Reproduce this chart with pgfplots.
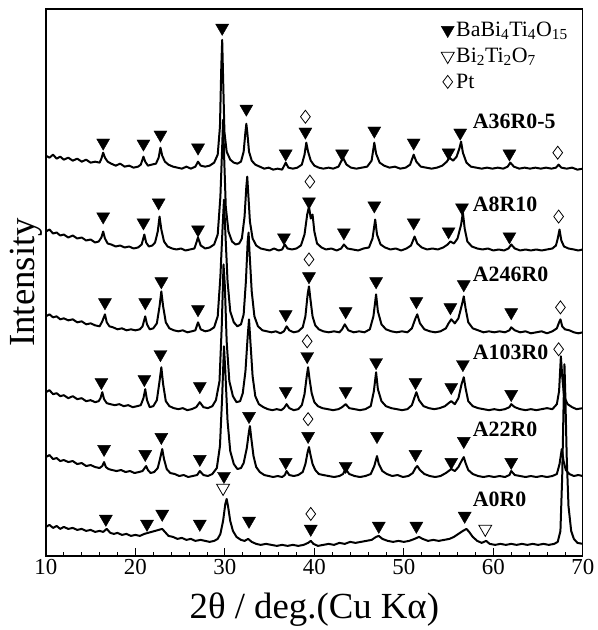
\documentclass[border=0pt]{standalone}
\usepackage{fontspec}
\setmainfont{Liberation Serif}
\usepackage{pgfplots}
\pgfplotsset{compat=1.18}
\begin{document}
\begin{tikzpicture}
\begin{axis}[
  scale only axis, width=538bp, height=548bp,
  xmin=10, xmax=70, ymin=0, ymax=548,
  xtick={10,20,...,70}, minor x tick num=4, xtick pos=bottom,
  ytick=\empty,
  major tick length=8bp, minor tick length=4bp,
  tick style={black, line width=0.8bp},
  axis line style={line width=1.3bp},
  tick label style={font=\fontsize{23}{26}\selectfont},
  /pgf/number format/assume math mode=true,
  xlabel={2θ / deg.(Cu Kα)},
  ylabel={Intensity},
  label style={font=\fontsize{37}{42}\selectfont},
  xlabel style={at={(axis description cs:0.5,-0.115)}, anchor=base},
  ylabel style={at={(axis description cs:-0.0204,0.5)}, anchor=base},
  legend style={at={(axis description cs:0.736,0.98)}, anchor=north west,
    draw=none, fill=none, font=\fontsize{22}{25}\selectfont,
    cells={anchor=west}, row sep=6bp, inner sep=0bp},
  legend image code/.code={\draw[#1] plot coordinates {(0bp,0bp)};},
]
\coordinate (bl) at (rel axis cs:0,0);
\coordinate (tr) at (rel axis cs:1,1);

% A36R0-5
\addplot[black, line width=2bp, line join=round, forget plot] coordinates {
(10,401)(10.4,399)(10.8,402)(11.2,398)(11.6,400)(12,397)(12.5,399)(13,396)(13.5,398)(14,395)(14.5,397)(15,394)(15.5,395)(16,394)(16.2,398)(16.4,404)(16.6,399)(16.9,395)(17.3,393)(17.8,391)(18.3,393)(18.8,390)(19.3,391)(19.8,389)(20.3,390)(20.6,392)(20.9,400)(21.1,395)(21.4,391)(21.8,392)(22.3,393)(22.6,399)(22.8,409)(23.0,401)(23.3,395)(23.7,392)(24.2,390)(24.7,389)(25.2,388)(25.7,390)(26.2,388)(26.7,390)(27.0,395)(27.3,391)(27.8,390)(28.3,391)(28.8,394)(29.2,402)(29.45,430)(29.6,490)(29.7,517)(29.8,480)(29.95,425)(30.2,405)(30.6,397)(31.0,394)(31.4,393)(31.8,395)(32.1,405)(32.3,425)(32.4,433)(32.5,425)(32.7,405)(33.0,396)(33.4,392)(33.9,390)(34.4,388)(34.9,389)(35.4,387)(35.9,388)(36.4,387)(36.8,394)(37.1,389)(37.6,388)(38.1,389)(38.6,392)(38.9,402)(39.1,414)(39.3,405)(39.6,396)(40.0,391)(40.5,389)(41.0,388)(41.6,389)(42.1,388)(42.7,390)(43.2,399)(43.6,392)(44.1,389)(44.7,388)(45.3,389)(45.9,390)(46.4,396)(46.7,414)(46.9,403)(47.3,394)(47.8,391)(48.4,389)(49.0,390)(49.6,388)(50.2,389)(50.7,392)(51.1,402)(51.4,395)(51.9,390)(52.5,389)(53.1,388)(53.7,389)(54.3,391)(54.8,395)(55.1,399)(55.5,396)(55.9,400)(56.2,408)(56.4,415)(56.6,404)(57.0,394)(57.5,390)(58.1,389)(58.7,388)(59.3,389)(59.9,388)(60.5,389)(61.1,388)(61.6,390)(61.9,394)(62.3,390)(62.9,388)(63.5,389)(64.1,388)(64.7,389)(65.3,388)(65.9,389)(66.5,388)(67.0,389)(67.3,392)(67.6,389)(68.2,388)(68.8,389)(69.4,387)(70,388)};

% A8R10
\addplot[black, line width=2bp, line join=round, forget plot] coordinates {
(10,325)(10.4,327)(10.8,323)(11.2,324)(11.6,321)(12,322)(12.5,319)(13,321)(13.5,318)(14,319)(14.5,316)(15,317)(15.5,314)(15.9,315)(16.2,319)(16.4,325)(16.6,318)(16.9,313)(17.3,312)(17.8,310)(18.3,311)(18.8,309)(19.3,310)(19.8,308)(20.3,309)(20.7,312)(21.0,322)(21.2,314)(21.5,310)(21.9,311)(22.2,314)(22.5,325)(22.7,340)(22.9,327)(23.2,315)(23.6,310)(24.1,308)(24.6,307)(25.1,308)(25.6,306)(26.1,307)(26.6,308)(27.0,319)(27.3,311)(27.8,308)(28.3,309)(28.8,312)(29.2,322)(29.5,360)(29.7,410)(29.8,437)(29.9,405)(30.1,350)(30.4,325)(30.8,315)(31.2,312)(31.6,313)(31.9,318)(32.2,340)(32.4,370)(32.5,380)(32.6,365)(32.8,335)(33.1,318)(33.5,311)(34.0,308)(34.5,307)(35.0,306)(35.5,308)(36.0,306)(36.4,307)(36.7,312)(37.0,308)(37.5,307)(38.0,308)(38.5,311)(38.9,322)(39.2,342)(39.4,350)(39.6,338)(39.8,342)(40.0,325)(40.3,313)(40.8,309)(41.3,307)(41.9,308)(42.5,306)(43.0,308)(43.3,312)(43.7,308)(44.3,307)(44.9,306)(45.5,308)(46.1,309)(46.5,318)(46.8,337)(47.0,322)(47.4,312)(47.9,309)(48.5,307)(49.1,308)(49.7,306)(50.3,308)(50.8,311)(51.2,320)(51.5,313)(52.0,309)(52.6,307)(53.2,308)(53.8,307)(54.4,309)(54.9,312)(55.2,315)(55.6,313)(56.0,318)(56.4,332)(56.6,344)(56.8,328)(57.1,315)(57.6,310)(58.2,308)(58.8,307)(59.4,308)(60.0,306)(60.6,307)(61.2,306)(61.7,308)(62.0,312)(62.4,308)(63.0,306)(63.6,307)(64.2,306)(64.8,307)(65.4,306)(66.0,307)(66.6,308)(67.0,311)(67.2,318)(67.4,327)(67.6,316)(67.9,310)(68.4,308)(69.0,307)(69.5,306)(70,307)};

% A246R0
\addplot[black, line width=2bp, line join=round, forget plot] coordinates {
(10,240)(10.4,242)(10.8,239)(11.2,240)(11.6,237)(12,238)(12.5,236)(13,237)(13.5,234)(14,235)(14.5,232)(15,233)(15.5,231)(16.0,230)(16.3,235)(16.6,242)(16.8,234)(17.1,230)(17.5,229)(18.0,227)(18.5,228)(19.0,226)(19.5,227)(20.0,226)(20.5,227)(20.8,230)(21.1,240)(21.3,232)(21.6,227)(22.0,228)(22.4,233)(22.7,250)(22.9,265)(23.1,250)(23.4,234)(23.8,228)(24.3,226)(24.8,225)(25.3,226)(25.8,224)(26.3,225)(26.7,226)(27.0,234)(27.3,227)(27.8,225)(28.3,226)(28.8,229)(29.2,240)(29.5,280)(29.75,330)(29.9,357)(30.05,325)(30.3,275)(30.6,245)(31.0,234)(31.4,230)(31.8,232)(32.1,242)(32.35,275)(32.55,315)(32.65,324)(32.75,305)(33.0,265)(33.3,240)(33.7,230)(34.2,226)(34.7,225)(35.2,224)(35.7,225)(36.2,223)(36.6,225)(36.9,230)(37.2,226)(37.7,224)(38.2,225)(38.7,229)(39.0,240)(39.25,262)(39.4,270)(39.55,258)(39.8,240)(40.1,231)(40.5,227)(41.0,225)(41.6,224)(42.2,225)(42.8,224)(43.1,227)(43.4,232)(43.8,226)(44.4,224)(45.0,225)(45.6,224)(46.2,227)(46.6,240)(46.9,262)(47.1,245)(47.5,232)(48.0,227)(48.6,225)(49.2,224)(49.8,225)(50.4,224)(50.9,228)(51.3,238)(51.5,242)(51.8,233)(52.3,227)(52.9,225)(53.5,224)(54.1,225)(54.7,228)(55.0,233)(55.3,237)(55.7,233)(56.1,238)(56.5,252)(56.7,260)(56.9,248)(57.2,234)(57.7,228)(58.3,226)(58.9,224)(59.5,225)(60.1,224)(60.7,225)(61.3,224)(61.8,226)(62.0,229)(62.4,226)(63.0,224)(63.6,225)(64.2,223)(64.8,224)(65.4,225)(66.0,223)(66.6,225)(67.1,228)(67.35,234)(67.5,237)(67.7,230)(68.0,227)(68.5,226)(69.0,224)(69.5,223)(70,224)};

% A103R0
\addplot[black, line width=2bp, line join=round, forget plot] coordinates {
(10,164)(10.4,166)(10.8,162)(11.2,163)(11.6,160)(12,161)(12.5,158)(13,160)(13.5,157)(14,158)(14.5,155)(15,156)(15.5,154)(15.9,155)(16.1,158)(16.3,164)(16.5,157)(16.8,153)(17.2,152)(17.7,151)(18.2,152)(18.7,150)(19.2,151)(19.7,149)(20.2,150)(20.6,151)(20.9,158)(21.1,167)(21.3,156)(21.6,149)(22.0,150)(22.4,156)(22.7,175)(22.9,189)(23.1,172)(23.4,155)(23.8,150)(24.3,148)(24.8,147)(25.3,148)(25.8,146)(26.3,147)(26.8,149)(27.2,154)(27.6,149)(28.1,148)(28.6,150)(29.0,156)(29.4,175)(29.65,230)(29.85,292)(30.0,270)(30.2,215)(30.5,175)(30.9,160)(31.3,154)(31.7,155)(32.0,163)(32.3,185)(32.55,220)(32.7,237)(32.85,215)(33.1,180)(33.4,160)(33.8,152)(34.3,149)(34.8,147)(35.3,146)(35.8,147)(36.3,146)(36.6,148)(36.9,152)(37.2,148)(37.7,146)(38.2,147)(38.6,151)(38.9,162)(39.15,180)(39.3,189)(39.45,178)(39.7,163)(40.0,154)(40.4,150)(40.9,148)(41.5,147)(42.1,146)(42.7,147)(43.1,149)(43.5,152)(43.9,148)(44.5,147)(45.1,146)(45.7,147)(46.3,150)(46.65,165)(46.9,184)(47.1,167)(47.5,155)(48.0,150)(48.6,148)(49.2,147)(49.8,146)(50.4,147)(50.9,151)(51.2,159)(51.4,164)(51.7,156)(52.2,150)(52.8,148)(53.4,147)(54.0,148)(54.6,150)(55.0,153)(55.3,155)(55.7,152)(56.1,158)(56.45,172)(56.7,179)(56.9,168)(57.2,155)(57.7,150)(58.3,148)(58.9,147)(59.5,146)(60.1,147)(60.7,146)(61.3,147)(61.8,149)(62.0,152)(62.4,149)(63.0,147)(63.6,146)(64.2,147)(64.8,146)(65.4,147)(66.0,148)(66.6,147)(67.1,152)(67.35,165)(67.55,200)(67.7,180)(67.9,160)(68.3,152)(68.8,149)(69.3,147)(70,148)};

% A22R0
\addplot[black, line width=2bp, line join=round, forget plot] coordinates {
(10,99)(10.4,101)(10.8,97)(11.2,98)(11.6,95)(12,96)(12.5,94)(13,95)(13.5,92)(14,93)(14.5,90)(15,91)(15.5,89)(16.0,88)(16.3,90)(16.5,94)(16.7,89)(17.0,87)(17.4,86)(17.9,85)(18.4,86)(18.9,84)(19.4,85)(19.9,83)(20.4,84)(20.8,85)(21.2,90)(21.4,86)(21.7,83)(22.1,84)(22.5,88)(22.8,99)(23.0,107)(23.2,97)(23.5,87)(23.9,83)(24.4,82)(24.9,80)(25.4,81)(25.9,79)(26.4,80)(26.9,81)(27.2,85)(27.6,81)(28.1,80)(28.6,82)(29.1,88)(29.45,110)(29.7,160)(29.9,210)(30.05,185)(30.3,135)(30.6,105)(31.0,92)(31.4,87)(31.8,88)(32.1,93)(32.45,108)(32.7,125)(32.8,130)(32.95,118)(33.2,100)(33.5,89)(33.9,84)(34.4,81)(34.9,80)(35.4,79)(35.9,80)(36.4,79)(36.7,81)(36.9,85)(37.2,81)(37.7,80)(38.2,81)(38.7,84)(39.0,92)(39.25,104)(39.4,109)(39.55,102)(39.8,92)(40.1,86)(40.5,82)(41.0,81)(41.6,80)(42.2,79)(42.8,80)(43.2,82)(43.5,87)(43.9,82)(44.5,80)(45.1,79)(45.7,80)(46.3,82)(46.7,90)(47.0,100)(47.2,92)(47.6,85)(48.1,82)(48.7,80)(49.3,81)(49.9,79)(50.5,80)(51.0,83)(51.3,88)(51.5,90)(51.8,86)(52.3,82)(52.9,80)(53.5,79)(54.1,80)(54.7,83)(55.0,85)(55.3,87)(55.7,85)(56.1,89)(56.5,96)(56.7,99)(56.9,93)(57.2,86)(57.7,82)(58.3,80)(58.9,79)(59.5,80)(60.1,79)(60.7,80)(61.3,79)(61.8,81)(62.0,85)(62.4,81)(63.0,80)(63.6,79)(64.2,80)(64.8,79)(65.4,80)(66.0,79)(66.6,80)(67.1,82)(67.4,92)(67.65,107)(67.85,95)(68.1,86)(68.5,82)(69.0,80)(69.5,81)(70,80)};

% A0R0
\addplot[black, line width=2bp, line join=round, forget plot] coordinates {
(10,29)(10.4,31)(10.8,28)(11.2,30)(11.6,27)(12,29)(12.5,27)(13,28)(13.5,26)(14,27)(14.5,25)(15,26)(15.5,24)(16.0,25)(16.4,24)(16.8,27)(17.2,23)(17.6,22)(18.0,23)(18.5,21)(19.0,22)(19.5,20)(20.0,21)(20.5,20)(21.0,22)(21.4,23)(21.8,24)(22.2,25)(22.6,26)(23.0,27)(23.3,24)(23.7,20)(24.2,19)(24.7,17)(25.2,18)(25.7,16)(26.2,17)(26.7,15)(27.3,16)(27.8,15)(28.3,14)(28.8,15)(29.2,17)(29.5,22)(29.8,35)(30.05,52)(30.2,57)(30.35,50)(30.6,35)(30.9,25)(31.3,19)(31.8,16)(32.2,15)(32.6,17)(33.0,14)(33.5,12)(34.0,11)(34.6,12)(35.2,11)(35.8,10)(36.4,11)(37.0,10)(37.6,11)(38.2,10)(38.8,11)(39.3,13)(39.6,15)(39.9,12)(40.4,10)(41.0,11)(41.6,12)(42.2,11)(42.8,13)(43.4,12)(44.0,14)(44.6,13)(45.2,14)(45.8,15)(46.4,16)(46.9,19)(47.2,20)(47.6,17)(48.2,15)(48.8,14)(49.4,15)(50.0,14)(50.6,15)(51.2,17)(51.7,19)(52.1,17)(52.7,15)(53.3,16)(53.9,15)(54.5,16)(55.1,17)(55.6,19)(56.1,22)(56.6,25)(57.0,27)(57.3,24)(57.7,19)(58.2,15)(58.7,13)(59.2,15)(59.6,12)(60.2,11)(60.8,12)(61.4,11)(62.0,12)(62.6,11)(63.2,12)(63.8,11)(64.4,12)(65.0,11)(65.6,12)(66.2,11)(66.8,12)(67.2,14)(67.5,25)(67.7,80)(67.85,150)(67.95,192)(68.05,160)(68.2,100)(68.4,50)(68.7,25)(69.0,17)(69.4,13)(70,12)};

% phase markers
\addplot[only marks, mark=triangle*, mark size=7.5bp, mark options={rotate=180, black, fill=black}] coordinates {
(16.4,414)(20.9,413)(22.8,422)(27.0,409)(29.7,529)(32.4,448)(36.8,403)(39.0,425)(43.1,403)(46.7,426)(51.1,414)(55.0,404)(56.3,424)(61.8,403)
(16.4,340)(20.9,334)(22.6,354)(27.0,327)(36.6,319)(39.4,355)(43.3,324)(46.7,351)(51.1,334)(55.0,325)(56.5,349)(61.8,320)
(16.6,254)(21.1,254)(22.9,275)(27.0,247)(36.8,242)(39.4,280)(43.5,245)(46.9,275)(51.4,255)(55.2,249)(56.7,272)(62.0,244)
(16.2,174)(21.0,177)(22.8,202)(27.2,170)(36.8,165)(39.2,200)(43.5,165)(46.9,194)(51.3,174)(55.3,169)(56.6,192)(62.0,162)
(16.5,107)(21.1,102)(22.9,119)(27.2,97)(29.9,80)(32.7,140)(36.8,94)(39.3,120)(43.5,90)(47.0,120)(51.3,102)(55.3,94)(56.7,115)(62.0,94)
(16.7,37)(21.3,32)(23.0,42)(27.2,32)(32.7,35)(39.6,27)(47.2,30)(51.4,30)(56.8,40)};
\addlegendentry{BaBi\textsubscript{4}Ti\textsubscript{4}O\textsubscript{15}}
\addplot[only marks, mark=triangle, mark size=7.5bp, mark options={rotate=180, black, fill=white, line width=0.8bp}] coordinates {
(29.8,68)(59.1,27)};
\addlegendentry{Bi\textsubscript{2}Ti\textsubscript{2}O\textsubscript{7}}
\addplot[only marks, mark=diamond, mark size=6.5bp, mark options={black, fill=white, line width=0.8bp}] coordinates {
(39.0,440)(67.2,404)(39.5,375)(67.3,340)(39.4,297)(67.5,249)(39.2,215)(67.3,207)(39.3,137)(39.6,42)};
\addlegendentry{Pt}

\begin{scope}[every node/.style={anchor=west, font=\bfseries\fontsize{22}{26}\selectfont, inner sep=0pt}]
\node at (axis cs:57.7,435) {A36R0-5};
\node at (axis cs:57.7,352) {A8R10};
\node at (axis cs:57.7,282) {A246R0};
\node at (axis cs:57.7,204) {A103R0};
\node at (axis cs:57.7,127) {A22R0};
\node at (axis cs:57.7,57) {A0R0};
\end{scope}
\end{axis}
\path[use as bounding box] ([xshift=-46bp,yshift=-73bp]bl) rectangle ([xshift=15bp,yshift=9bp]tr);
\end{tikzpicture}
\end{document}
